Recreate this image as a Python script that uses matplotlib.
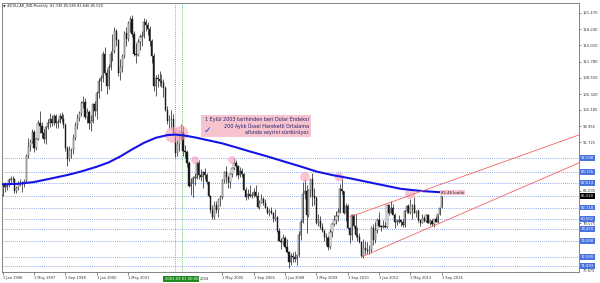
import numpy as np
import matplotlib
matplotlib.use("Agg")
import matplotlib.pyplot as plt
import matplotlib.transforms as mtransforms
from matplotlib.patches import Rectangle

# --- monthly candles, Jan 1996 .. Sep 2014 (bar 0 = Jan 1996) ---
opens = [
    85.2, 87.4, 86.9, 87.3, 88.3, 88.5, 88.4, 86.1, 86.6, 87.6, 87.7, 87.4,
    88.1, 92.9, 95.0, 95.8, 97.8, 94.6, 96.4, 99.6, 99.0, 97.5, 96.4, 98.7,
    99.6, 100.3, 99.6, 101.0, 99.6, 99.8, 101.0, 100.4, 99.2, 94.6, 92.4, 94.1,
    94.2, 96.6, 99.2, 100.5, 101.5, 103.6, 103.8, 100.7, 101.7, 99.5, 99.9, 103.3,
    101.9, 105.6, 108.0, 108.6, 113.4, 109.6, 107.0, 110.8, 113.4, 113.9, 117.8, 116.0,
    109.6, 110.8, 112.9, 117.4, 116.2, 119.4, 120.2, 117.2, 113.4, 113.2, 115.7, 116.6,
    116.8, 119.6, 119.0, 118.3, 115.8, 113.0, 106.9, 108.5, 108.3, 108.0, 107.6, 106.6,
    102.2, 100.0, 100.3, 100.3, 97.6, 93.6, 95.4, 96.7, 97.7, 93.9, 93.7, 91.6,
    87.0, 87.7, 88.7, 88.7, 91.6, 89.2, 88.8, 89.7, 89.3, 87.9, 85.1, 82.2,
    80.9, 83.3, 82.2, 84.4, 84.8, 88.2, 89.8, 88.9, 87.8, 89.4, 90.5, 91.5,
    90.9, 89.2, 89.9, 89.4, 86.3, 84.9, 85.5, 85.0, 85.2, 85.8, 85.1, 82.9,
    83.7, 84.4, 83.6, 82.7, 81.6, 82.1, 81.6, 80.4, 80.8, 78.0, 76.1, 75.9,
    76.7, 74.9, 73.8, 71.8, 73.1, 72.8, 72.4, 73.2, 77.3, 79.9, 85.4, 86.1,
    81.3, 86.2, 88.5, 85.0, 84.7, 79.6, 80.1, 78.8, 78.1, 76.8, 76.7, 74.9,
    77.9, 79.5, 80.3, 81.1, 81.8, 86.5, 86.0, 81.6, 83.1, 78.6, 77.2, 81.2,
    79.0, 77.2, 76.8, 75.9, 73.0, 74.6, 74.3, 74.0, 74.2, 78.6, 76.2, 78.3,
    80.2, 79.1, 78.9, 79.0, 78.8, 83.2, 81.7, 82.7, 81.2, 79.9, 79.9, 80.2,
    79.8, 79.2, 82.0, 83.0, 81.6, 83.3, 83.2, 81.6, 82.1, 80.2, 79.7, 80.7,
    80.0, 81.2, 79.7, 80.1, 79.5, 80.4, 79.8, 81.5, 82.745,
]
highs = [
    87.6, 87.8, 87.7, 88.6, 89.0, 89.0, 88.6, 87.0, 88.0, 88.5, 88.0, 88.5,
    93.3, 96.5, 96.3, 98.4, 98.2, 96.6, 100.2, 102.0, 99.7, 98.4, 99.0, 100.4,
    101.6, 101.2, 101.3, 101.4, 100.3, 101.6, 101.7, 101.4, 99.6, 95.0, 95.0, 94.6,
    97.4, 99.7, 101.4, 102.0, 104.0, 104.9, 104.5, 102.5, 102.2, 101.1, 103.6, 103.9,
    106.0, 108.6, 109.1, 113.8, 114.6, 110.4, 111.4, 113.9, 117.2, 118.7, 118.3, 116.2,
    112.3, 113.4, 117.9, 118.7, 119.8, 120.9, 121.0, 117.8, 115.5, 116.2, 117.3, 117.8,
    120.5, 120.2, 119.6, 118.8, 116.3, 113.5, 109.2, 109.4, 109.9, 109.3, 108.4, 107.0,
    102.9, 101.2, 102.1, 101.4, 98.0, 96.2, 97.9, 99.3, 99.0, 95.2, 94.2, 91.9,
    88.6, 89.0, 89.6, 92.0, 92.2, 90.3, 89.9, 90.5, 89.6, 88.1, 85.3, 83.2,
    84.0, 84.1, 84.5, 85.2, 88.4, 90.0, 90.9, 89.0, 89.6, 90.6, 92.6, 92.2,
    91.2, 90.8, 90.5, 89.6, 86.9, 86.4, 87.2, 85.8, 86.6, 87.3, 85.8, 84.2,
    85.4, 84.9, 84.4, 83.1, 82.5, 82.8, 81.8, 82.4, 81.1, 78.6, 76.7, 77.4,
    77.0, 76.5, 74.0, 73.7, 73.8, 74.0, 73.3, 78.0, 80.4, 87.9, 88.5, 87.3,
    86.5, 88.5, 89.6, 86.6, 85.1, 81.4, 81.1, 79.6, 78.4, 77.6, 77.1, 78.4,
    79.6, 81.3, 82.0, 82.7, 87.4, 88.7, 86.1, 83.6, 83.5, 78.9, 81.4, 81.4,
    81.4, 78.8, 77.7, 76.0, 76.4, 76.1, 75.9, 75.3, 79.1, 79.5, 79.8, 80.7,
    81.8, 79.3, 80.3, 79.9, 83.3, 83.5, 84.1, 83.5, 81.6, 80.4, 81.2, 80.4,
    80.4, 82.2, 83.2, 83.4, 84.5, 83.5, 84.8, 82.3, 82.5, 80.5, 81.5, 81.1,
    81.4, 81.4, 80.5, 80.5, 80.5, 81.0, 81.5, 82.9, 85.085,
]
lows = [
    85.0, 85.8, 86.3, 86.9, 87.6, 87.8, 85.7, 85.6, 86.3, 87.0, 85.9, 86.9,
    87.9, 92.6, 93.9, 95.5, 93.7, 94.2, 96.2, 97.6, 96.6, 95.6, 95.4, 98.3,
    98.8, 99.0, 99.2, 98.6, 98.5, 99.5, 99.8, 98.6, 94.0, 90.9, 92.0, 92.6,
    93.4, 96.2, 98.3, 100.0, 101.0, 102.5, 100.3, 99.6, 98.4, 97.9, 99.6, 101.0,
    100.4, 104.6, 105.9, 107.7, 109.1, 105.4, 106.4, 110.2, 112.0, 113.6, 114.8, 108.9,
    108.2, 109.7, 112.5, 114.8, 115.9, 117.6, 116.6, 112.9, 111.6, 112.9, 114.1, 114.8,
    116.4, 117.9, 117.1, 114.9, 111.6, 105.9, 104.9, 106.7, 107.0, 106.8, 104.7, 101.9,
    99.4, 98.6, 98.5, 97.2, 92.8, 92.9, 93.9, 96.4, 93.0, 92.6, 90.8, 86.9,
    85.3, 84.8, 87.3, 88.5, 88.5, 88.1, 86.6, 88.4, 87.5, 84.9, 81.6, 80.4,
    80.4, 81.6, 80.9, 83.1, 84.5, 87.6, 87.7, 86.6, 86.6, 88.8, 90.2, 89.1,
    88.4, 88.9, 88.8, 86.2, 84.2, 84.5, 84.8, 84.6, 84.8, 84.9, 82.6, 82.4,
    83.6, 83.3, 82.6, 81.5, 81.0, 81.5, 79.9, 80.1, 77.9, 76.1, 74.5, 75.3,
    74.6, 73.7, 70.7, 71.3, 71.8, 71.8, 71.3, 72.8, 76.3, 79.6, 84.5, 77.7,
    80.8, 84.9, 83.0, 83.3, 79.4, 79.1, 78.4, 77.8, 76.1, 75.2, 74.2, 74.5,
    76.8, 79.1, 79.4, 80.0, 81.6, 85.4, 81.5, 80.1, 78.5, 75.6, 76.2, 78.6,
    76.9, 76.1, 75.6, 72.8, 72.7, 73.4, 73.5, 73.4, 73.7, 75.3, 75.6, 77.6,
    78.9, 78.1, 78.6, 78.6, 78.6, 81.2, 81.6, 81.2, 78.6, 79.2, 79.7, 79.1,
    78.9, 78.9, 81.7, 81.6, 81.4, 80.5, 81.6, 80.8, 79.9, 79.0, 79.7, 79.8,
    79.9, 79.7, 79.2, 79.0, 78.9, 79.8, 79.7, 81.3, 82.646,
]
closes = [
    87.4, 86.9, 87.3, 88.3, 88.5, 88.4, 86.1, 86.6, 87.6, 87.7, 87.4, 88.1,
    92.9, 95.0, 95.8, 97.8, 94.6, 96.4, 99.6, 99.0, 97.5, 96.4, 98.7, 99.6,
    100.3, 99.6, 101.0, 99.6, 99.8, 101.0, 100.4, 99.2, 94.6, 92.4, 94.1, 94.2,
    96.6, 99.2, 100.5, 101.5, 103.6, 103.8, 100.7, 101.7, 99.5, 99.9, 103.3, 101.9,
    105.6, 108.0, 108.6, 113.4, 109.6, 107.0, 110.8, 113.4, 113.9, 117.8, 116.0, 109.6,
    110.8, 112.9, 117.4, 116.2, 119.4, 120.2, 117.2, 113.4, 113.2, 115.7, 116.6, 116.8,
    119.6, 119.0, 118.3, 115.8, 113.0, 106.9, 108.5, 108.3, 108.0, 107.6, 106.6, 102.2,
    100.0, 100.3, 100.3, 97.6, 93.6, 95.4, 96.7, 97.7, 93.9, 93.7, 91.6, 87.0,
    87.7, 88.7, 88.7, 91.6, 89.2, 88.8, 89.7, 89.3, 87.9, 85.1, 82.2, 80.9,
    83.3, 82.2, 84.4, 84.8, 88.2, 89.8, 88.9, 87.8, 89.4, 90.5, 91.5, 90.9,
    89.2, 89.9, 89.4, 86.3, 84.9, 85.5, 85.0, 85.2, 85.8, 85.1, 82.9, 83.7,
    84.4, 83.6, 82.7, 81.6, 82.1, 81.6, 80.4, 80.8, 78.0, 76.1, 75.9, 76.7,
    74.9, 73.8, 71.8, 73.1, 72.8, 72.4, 73.2, 77.3, 79.9, 85.4, 86.1, 81.3,
    86.2, 88.5, 85.0, 84.7, 79.6, 80.1, 78.8, 78.1, 76.8, 76.7, 74.9, 77.9,
    79.5, 80.3, 81.1, 81.8, 86.5, 86.0, 81.6, 83.1, 78.6, 77.2, 81.2, 79.0,
    77.2, 76.8, 75.9, 73.0, 74.6, 74.3, 74.0, 74.2, 78.6, 76.2, 78.3, 80.2,
    79.1, 78.9, 79.0, 78.8, 83.2, 81.7, 82.7, 81.2, 79.9, 79.9, 80.2, 79.8,
    79.2, 82.0, 83.0, 81.6, 83.3, 83.2, 81.6, 82.1, 80.2, 79.7, 80.7, 80.0,
    81.2, 79.7, 80.1, 79.5, 80.4, 79.8, 81.5, 82.7, 85.020,
]

# 200-month EMA
ema_bars = [0, 8, 16, 24, 33, 40, 48, 54, 60, 66, 72, 78, 84, 88, 92, 98, 105, 112,
            120, 126, 135, 143, 152, 160, 168, 177, 190, 203, 214, 224]
ema_vals = [87.35, 87.45, 87.8, 88.45, 89.2, 89.9, 90.85, 91.7, 92.9, 94.3, 95.6,
            96.6, 97.15, 97.25, 97.1, 96.7, 96.1, 95.5, 94.6, 93.9, 92.9, 91.95,
            90.9, 89.9, 89.2, 88.55, 87.5, 86.45, 86.0, 85.75]

# channel lines (bar, price)
upper_bars, upper_vals = [177.2, 294.0], [80.87, 97.19]
lower_bars, lower_vals = [183.3, 294.0], [72.91, 91.62]

# horizontal levels with their axis boxes
level_vals = [92.598, 89.726, 87.613, 82.718, 80.502, 78.470, 76.068, 72.930, 71.093]
current_price = 85.020
low_label = 70.875

# right axis plain ticks
ytick_vals = [121.470, 118.240, 115.010, 111.780, 108.550, 105.320, 102.185,
              98.955, 95.725, 86.035, 79.575]

# x axis labels (every 16 bars); the 2002/2004 ones sit under the cursor box
xtick_bars = [0, 16, 32, 48, 64, 112, 128, 144, 160, 176, 192, 208, 224]
xtick_labels = ["1 Jan 1996", "1 May 1997", "1 Sep 1998", "1 Jan 2000", "1 May 2001",
                "1 May 2005", "1 Sep 2006", "1 Jan 2008",
                "1 May 2009", "1 Sep 2010", "1 Jan 2012", "1 May 2013", "1 Sep 2014"]
part_label, part_bar = "2004", 100.4

# green vertical markers
vline_bars = [87.9, 91.5]
cursor_bar = 91.1
cursor_label = "2003.09.01 00:00"

# pink touch circles
circle_bars = [86.9, 91.0, 98.1, 117.0, 154.2, 171.6, 207.8]
circle_vals = [97.17, 97.57, 92.19, 92.19, 88.80, 88.80, 85.41]
circle_sizes = [130, 110, 32, 32, 48, 42, 52]

# note box (bar range, price range) and its three lines
note_box_bars = [101.2, 157.3]
note_box_vals = [96.77, 101.15]
note_lines = ["1 Eylül 2003 tarihinden beri Dolar Endeksi",
              "200 Aylık Üssel Hareketli Ortalama",
              "altında seyrini sürdürüyor."]
note_line_vals = [100.26, 98.96, 97.67]
note_right_bar = 156.4
check_bar, check_val = 104.2, 98.1
break_text = "85.46 kırıldı"
break_bar, break_val = 223.6, 85.71

W, H = 600, 283
fig = plt.figure(figsize=(W / 100, H / 100), dpi=100)
fig.patch.set_facecolor("white")
ax = fig.add_axes([2 / W, 11 / H, 577 / W, 269 / H])
ax.set_xlim(-0.36, 294.0)
ax.set_ylim(69.88, 123.46)

# levels
for v in level_vals + [current_price]:
    ax.axhline(v, color="#6f8ae6", lw=0.6, ls=(0, (1, 1.5)), zorder=1)
for b in vline_bars:
    ax.axvline(b, color="#39b439", lw=0.6, ls=(0, (1, 1.5)), zorder=1)

# candles
o, h, l, c = map(np.array, (opens, highs, lows, closes))
idx = np.arange(len(c))
up = c >= o
ax.vlines(idx, l, h, color="#1a1a1a", lw=0.5, zorder=3)
ax.bar(idx[up], np.maximum((c - o)[up], 0.08), bottom=o[up], width=0.62,
       color="white", edgecolor="#1a1a1a", lw=0.3, zorder=4)
ax.bar(idx[~up], np.maximum((o - c)[~up], 0.08), bottom=c[~up], width=0.62,
       color="#1a1a1a", edgecolor="#1a1a1a", lw=0.3, zorder=4)

# pink circles
ax.scatter(circle_bars, circle_vals, s=circle_sizes, color="#f4a0b4", alpha=0.6,
           lw=0, zorder=5)

# EMA
ax.plot(ema_bars, ema_vals, color="#1414e6", lw=1.5, zorder=6, solid_joinstyle="round")

# channel
ax.plot(upper_bars, upper_vals, color="#f06464", lw=0.6, zorder=6)
ax.plot(lower_bars, lower_vals, color="#f06464", lw=0.6, zorder=6)

# note
ax.add_patch(Rectangle((note_box_bars[0], note_box_vals[0]),
                       note_box_bars[1] - note_box_bars[0],
                       note_box_vals[1] - note_box_vals[0],
                       fc="#f7c3ce", ec="none", zorder=7))
for txt, v in zip(note_lines, note_line_vals):
    ax.text(note_right_bar, v, txt, ha="right", va="center", fontsize=3.55,
            color="#20206a", zorder=8)
ax.text(check_bar, check_val, "\u2713", ha="center", va="center", fontsize=6.5,
        color="#1c3cd8", fontweight="bold", zorder=8)
ax.text(break_bar, break_val, break_text, ha="left", va="center", fontsize=2.8,
        color="#222222", zorder=7,
        bbox=dict(boxstyle="square,pad=0.2", fc="#f7c3ce", ec="none"))

# axes styling
for s in ax.spines.values():
    s.set_color("#707070")
    s.set_linewidth(0.6)
ax.yaxis.tick_right()
ax.set_yticks(ytick_vals)
ax.set_yticklabels([f"{v:.3f}" for v in ytick_vals])
ax.tick_params(axis="y", labelsize=2.7, length=1.5, width=0.4, pad=1, colors="#333333")
ax.set_xticks(xtick_bars)
ax.set_xticklabels(xtick_labels, ha="left")
ax.tick_params(axis="x", labelsize=2.6, length=2, width=0.4, pad=1, colors="#333333")

trans_y = mtransforms.blended_transform_factory(ax.transAxes, ax.transData)
for v in level_vals:
    ax.text(1.003, v, f"{v:.3f}", transform=trans_y, ha="left", va="center", fontsize=2.7,
            color="white", clip_on=False, zorder=9,
            bbox=dict(boxstyle="square,pad=0.25", fc="#4a72e0", ec="none"))
ax.text(1.003, current_price, f"{current_price:.3f}", transform=trans_y, ha="left",
        va="center", fontsize=2.7, color="white", clip_on=False, zorder=9,
        bbox=dict(boxstyle="square,pad=0.25", fc="black", ec="none"))
ax.text(1.006, 0.004, f"{low_label:.3f}", transform=ax.transAxes, ha="left",
        va="center", fontsize=2.5, color="#333333", clip_on=False)

trans_x = mtransforms.blended_transform_factory(ax.transData, ax.transAxes)
ax.text(cursor_bar, -0.026, cursor_label, transform=trans_x, ha="center", va="center",
        fontsize=2.7, color="white", clip_on=False, zorder=9,
        bbox=dict(boxstyle="square,pad=0.35", fc="#1f8a1f", ec="none"))
ax.text(part_bar, -0.026, part_label, transform=trans_x, ha="left", va="center",
        fontsize=2.6, color="#333333", clip_on=False)

fig.text(3 / W, 1 - 6 / H, "\u25bc #DOLLAR_IND,Monthly  82.745 85.085 82.646 85.020",
         fontsize=2.5, color="#222222", va="center", ha="left")

fig.savefig("out.png", dpi=100, facecolor="white")
